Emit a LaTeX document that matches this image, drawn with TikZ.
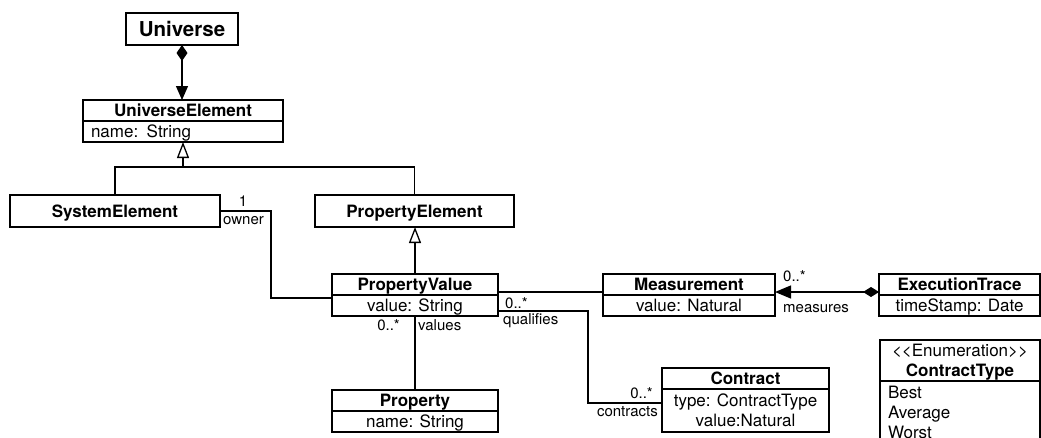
\documentclass[tikz,border=0pt]{standalone}
\usepackage{fontspec}
\setmainfont{TeX Gyre Heros}
\usetikzlibrary{positioning,arrows.meta}

\tikzset{
  box/.style={draw, line width=1.3pt, outer sep=0pt, inner xsep=4pt, inner ysep=0pt,
    minimum height=21pt, text height=12.2pt, text depth=0pt, align=center,
    font=\fontsize{17}{20}\selectfont},
  classhead/.style={box, font=\fontsize{17}{20}\selectfont\bfseries},
  classbody/.style={box},
  lbl/.style={inner sep=0pt, font=\fontsize{15}{18}\selectfont},
  conn/.style={line width=1.3pt},
  gen/.style={conn, -{Triangle[open, length=16pt, width=12pt]}},
  comp/.style={conn, {Diamond[length=16pt, width=11pt]}-{Triangle[length=14pt, width=12pt]}},
  meas/.style={conn, {Triangle[length=16pt, width=13pt]}-{Diamond[length=16pt, width=10pt]}}
}

\begin{document}
\begin{tikzpicture}[x=1pt,y=1pt,yscale=-1,xscale=1]
\useasboundingbox (0,0) rectangle (1041,437);
%Class: Universe
\node[classhead, minimum width=112pt, minimum height=32pt, text height=14.7pt,
  font=\fontsize{20.5}{24}\selectfont\bfseries] (univ) at (182,29) {Universe};
%Class: UniverseElement
\node[classhead, minimum width=200pt] (uelem) at (183,110.5) {UniverseElement};
\node[classbody, text width=184pt, inner xsep=8pt, align=left, below=0pt of uelem] (uelem-a) {name: String};
%Class: SystemElement, PropertyElement
\node[classhead, minimum width=210pt, minimum height=32pt] (sys) at (115,211) {SystemElement};
\node[classhead, minimum width=199pt, minimum height=32pt] (pel) at (414.5,211) {PropertyElement};
%Class: PropertyValue
\node[classhead, minimum width=166pt] (pv) at (415,284.5) {PropertyValue};
\node[classbody, minimum width=166pt, below=0pt of pv] (pv-a) {value: String};
%Class: Measurement
\node[classhead, minimum width=172pt] (meas) at (689,284.5) {Measurement};
\node[classbody, minimum width=172pt, below=0pt of meas] (meas-a) {value: Natural};
%Class: ExecutionTrace
\node[classhead, minimum width=161pt] (exec) at (959.5,284.5) {ExecutionTrace};
\node[classbody, minimum width=161pt, below=0pt of exec] (exec-a) {timeStamp: Date};
%Class: Property
\node[classhead, minimum width=166pt] (prop) at (415,400.5) {Property};
\node[classbody, minimum width=166pt, below=0pt of prop] (prop-a) {name: String};
%Class: Contract
\node[classhead, minimum width=167pt] (con) at (745.5,378.5) {Contract};
\node[classbody, minimum width=167pt, minimum height=43pt, text height=32.2pt, below=0pt of con] (con-a) {type: ContractType\\value:Natural};
%Enumeration: ContractType
\node[classbody, minimum width=160pt, minimum height=41pt, text height=32.2pt] (ctype) at (960,360.5) {<{}<Enumeration>{}>\\\textbf{ContractType}};
\node[classbody, text width=144pt, inner xsep=8pt, inner ysep=5pt, text depth=40pt, align=left, below=0pt of ctype] (ctype-a) {Best\\Average\\Worst};

%Connectors
\draw[comp] (univ.south) -- (univ.south |- uelem.north);
\coordinate (jn) at (183,167);
\draw[conn] (sys.north) |- (jn) -| (pel.north);
\draw[gen] (jn) -- (uelem-a.south);
\draw[gen] (pv.north) -- (pv.north |- pel.south);
\coordinate (own) at (271,298);
\draw[conn] (sys.east) -| (own) -- (own -| pv-a.west);
\coordinate (ms) at (0,292);
\draw[conn] (pv.east |- ms) -- (meas.west |- ms);
\draw[meas] (meas.east |- ms) -- (exec.west |- ms);
\coordinate (qa) at (588,311);
\coordinate (qb) at (588,403);
\draw[conn] (qa -| pv-a.east) -- (qa) -- (qb) -- (qb -| con-a.west);
\draw[conn] (pv-a.south) -- (prop.north);

%Labels
\node[lbl, anchor=base] (m-own) at (243,206) {1};
\node[lbl, anchor=base west] (r-own) at (223,224) {owner};
\node[lbl, anchor=base west] (m-qual) at (505,308.5) {0..*};
\node[lbl, anchor=base west] (r-qual) at (503,324) {qualifies};
\node[lbl, anchor=base east] (m-vals) at (400,330) {0..*};
\node[lbl, anchor=base west] (r-vals) at (418,330) {values};
\node[lbl, anchor=base east] (m-cont) at (653,398) {0..*};
\node[lbl, anchor=base east] (r-cont) at (658,416.5) {contracts};
\node[lbl, anchor=base west] (m-meas) at (783,281) {0..*};
\node[lbl, anchor=base west] (r-meas) at (783,312) {measures};
\end{tikzpicture}
\end{document}
